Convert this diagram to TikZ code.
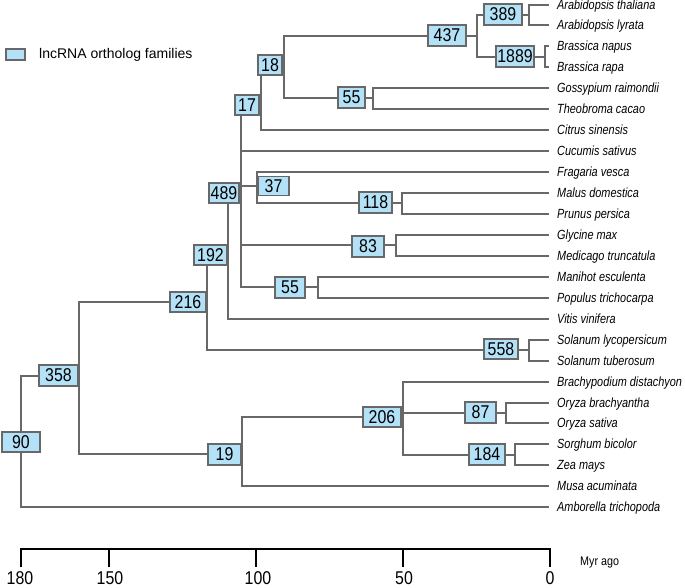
\documentclass[tikz,border=0pt]{standalone}
\usepackage{fontspec}
\setmainfont{Liberation Sans}
\newfontfamily\numfont[FakeStretch=0.86]{Liberation Sans}
\newfontfamily\leaffont[FakeStretch=0.82]{Liberation Sans}
\definecolor{linegray}{HTML}{686868}
\definecolor{boxgray}{HTML}{686868}
\definecolor{boxblue}{HTML}{B3E1F7}
\begin{document}
\begin{tikzpicture}[x=1pt,y=-1pt,
  branch/.style={draw=linegray, line width=2pt},
  fam/.style={draw=boxgray, fill=boxblue, line width=1.8pt, minimum height=20.5pt,
    minimum width=#1, inner sep=0pt, font=\numfont\fontsize{18.5}{18.5}\selectfont},
  leaf/.style={anchor=base west, inner sep=0pt, font=\leaffont\itshape\fontsize{13.3}{13.3}\selectfont},
  scalelbl/.style={inner sep=0pt, font=\numfont\fontsize{18.5}{18.5}\selectfont},
  axis/.style={draw=black, line width=2.3pt},
]
\useasboundingbox (0,0) rectangle (685,587);

% leaves
\foreach \i/\nm in {0/{Arabidopsis thaliana},1/{Arabidopsis lyrata},2/{Brassica napus},3/{Brassica rapa},
  4/{Gossypium raimondii},5/{Theobroma cacao},6/{Citrus sinensis},7/{Cucumis sativus},
  8/{Fragaria vesca},9/{Malus domestica},10/{Prunus persica},11/{Glycine max},
  12/{Medicago truncatula},13/{Manihot esculenta},14/{Populus trichocarpa},15/{Vitis vinifera},
  16/{Solanum lycopersicum},17/{Solanum tuberosum},18/{Brachypodium distachyon},
  19/{Oryza brachyantha},20/{Oryza sativa},21/{Sorghum bicolor},22/{Zea mays},
  23/{Musa acuminata},24/{Amborella trichopoda}}{
  \pgfmathsetmacro\yy{round(4.5+20.95*\i)}
  \coordinate (e\i) at (549,\yy);
  \node[leaf] (L\i) at (557,\yy+4.8) {\nm};
}

% branch points
\coordinate (v90) at (21,442);
\coordinate (v358) at (79,376);
\coordinate (v216) at (207,302);
\coordinate (v192) at (228,255);
\coordinate (v489) at (241,193);
\coordinate (v17) at (261,105);
\coordinate (v18) at (284,65);
\coordinate (v437) at (477,36);
\coordinate (v389) at (529,15);
\coordinate (v1889) at (545,57);
\coordinate (v55a) at (373,98);
\coordinate (v37) at (257,186);
\coordinate (v118) at (402,203);
\coordinate (v83) at (396,245);
\coordinate (v55b) at (318,287);
\coordinate (v558) at (529,350);
\coordinate (v19) at (242,454);
\coordinate (v206) at (403,417);
\coordinate (v87) at (506,413);
\coordinate (v184) at (515,455);

% branches
\draw[branch] (v90) |- (v358);
\draw[branch] (v90) |- (e24);
\draw[branch] (v358) |- (v216);
\draw[branch] (v358) |- (v19);
\draw[branch] (v216) |- (v192);
\draw[branch] (v216) |- (v558);
\draw[branch] (v192) |- (v489);
\draw[branch] (v192) |- (e15);
\draw[branch] (v489) |- (v17);
\draw[branch] (v489) |- (e7);
\draw[branch] (v489) |- (v37);
\draw[branch] (v489) |- (v83);
\draw[branch] (v489) |- (v55b);
\draw[branch] (v17) |- (v18);
\draw[branch] (v17) |- (e6);
\draw[branch] (v18) |- (v437);
\draw[branch] (v18) |- (v55a);
\draw[branch] (v437) |- (v389);
\draw[branch] (v437) |- (v1889);
\draw[branch] (v389) |- (e0);
\draw[branch] (v389) |- (e1);
\draw[branch] (v1889) |- (e2);
\draw[branch] (v1889) |- (e3);
\draw[branch] (v55a) |- (e4);
\draw[branch] (v55a) |- (e5);
\draw[branch] (v37) |- (e8);
\draw[branch] (v37) |- (v118);
\draw[branch] (v118) |- (e9);
\draw[branch] (v118) |- (e10);
\draw[branch] (v83) |- (e11);
\draw[branch] (v83) |- (e12);
\draw[branch] (v55b) |- (e13);
\draw[branch] (v55b) |- (e14);
\draw[branch] (v558) |- (e16);
\draw[branch] (v558) |- (e17);
\draw[branch] (v19) |- (v206);
\draw[branch] (v19) |- (e23);
\draw[branch] (v206) |- (e18);
\draw[branch] (v206) |- (v87);
\draw[branch] (v206) |- (v184);
\draw[branch] (v87) |- (e19);
\draw[branch] (v87) |- (e20);
\draw[branch] (v184) |- (e21);
\draw[branch] (v184) |- (e22);

% family boxes
\node[fam=38.5pt] (b90) at (21,442) {90};
\node[fam=39.5pt] (b358) at (58.5,375.5) {358};
\node[fam=36.5pt] (b216) at (188,302) {216};
\node[fam=33.5pt] (b192) at (210.5,255) {192};
\node[fam=30.5pt] (b489) at (224,193) {489};
\node[fam=24.5pt] (b17) at (247,105) {17};
\node[fam=24.5pt] (b18) at (270,65) {18};
\node[fam=38.5pt] (b437) at (447,35.5) {437};
\node[fam=38.5pt] (b389) at (503,14.5) {389};
\node[fam=38.5pt] (b1889) at (515,56.5) {1889};
\node[fam=27.5pt] (b55a) at (351.5,97.5) {55};
\node[fam=31.5pt,minimum height=19pt] (b37) at (273.5,186) {37};
\node[fam=33.5pt] (b118) at (375.5,202.5) {118};
\node[fam=32.5pt] (b83) at (368,246.5) {83};
\node[fam=30.5pt] (b55b) at (290,287.5) {55};
\node[fam=34.5pt] (b558) at (501,349) {558};
\node[fam=33.5pt] (b19) at (224.5,454.5) {19};
\node[fam=38.5pt] (b206) at (382,417) {206};
\node[fam=31.5pt] (b87) at (480.5,412.5) {87};
\node[fam=36.5pt] (b184) at (487,454.5) {184};

% legend
\node[draw=boxgray, fill=boxblue, line width=1.8pt, minimum width=19.5pt, minimum height=11.5pt, inner sep=0pt] (legbox) at (15.5,54.5) {};
\node[anchor=west, inner sep=0pt, font=\fontsize{14}{14}\selectfont] (legtext) at (39,54.5) {lncRNA ortholog families};

% time scale
\coordinate (t180) at (21,549);
\coordinate (t150) at (109,549);
\coordinate (t100) at (256,549);
\coordinate (t50) at (403,549);
\coordinate (t0) at (550,549);
\draw[axis] ([yshift=-18pt]t180) -- (t180) -- (t0) -- ([yshift=-18pt]t0);
\draw[axis] (t150) -- ++(0,18);
\draw[axis] (t100) -- ++(0,18);
\draw[axis] (t50) -- ++(0,18);
\node[scalelbl] (s180) at (20,578) {180};
\node[scalelbl] (s150) at (110,578) {150};
\node[scalelbl] (s100) at (258,578) {100};
\node[scalelbl] (s50) at (404,578) {50};
\node[scalelbl] (s0) at (550,578) {0};
\node[anchor=west, inner sep=0pt, font=\numfont\fontsize{12.5}{12.5}\selectfont] (myr) at (580,562) {Myr ago};
\end{tikzpicture}
\end{document}
